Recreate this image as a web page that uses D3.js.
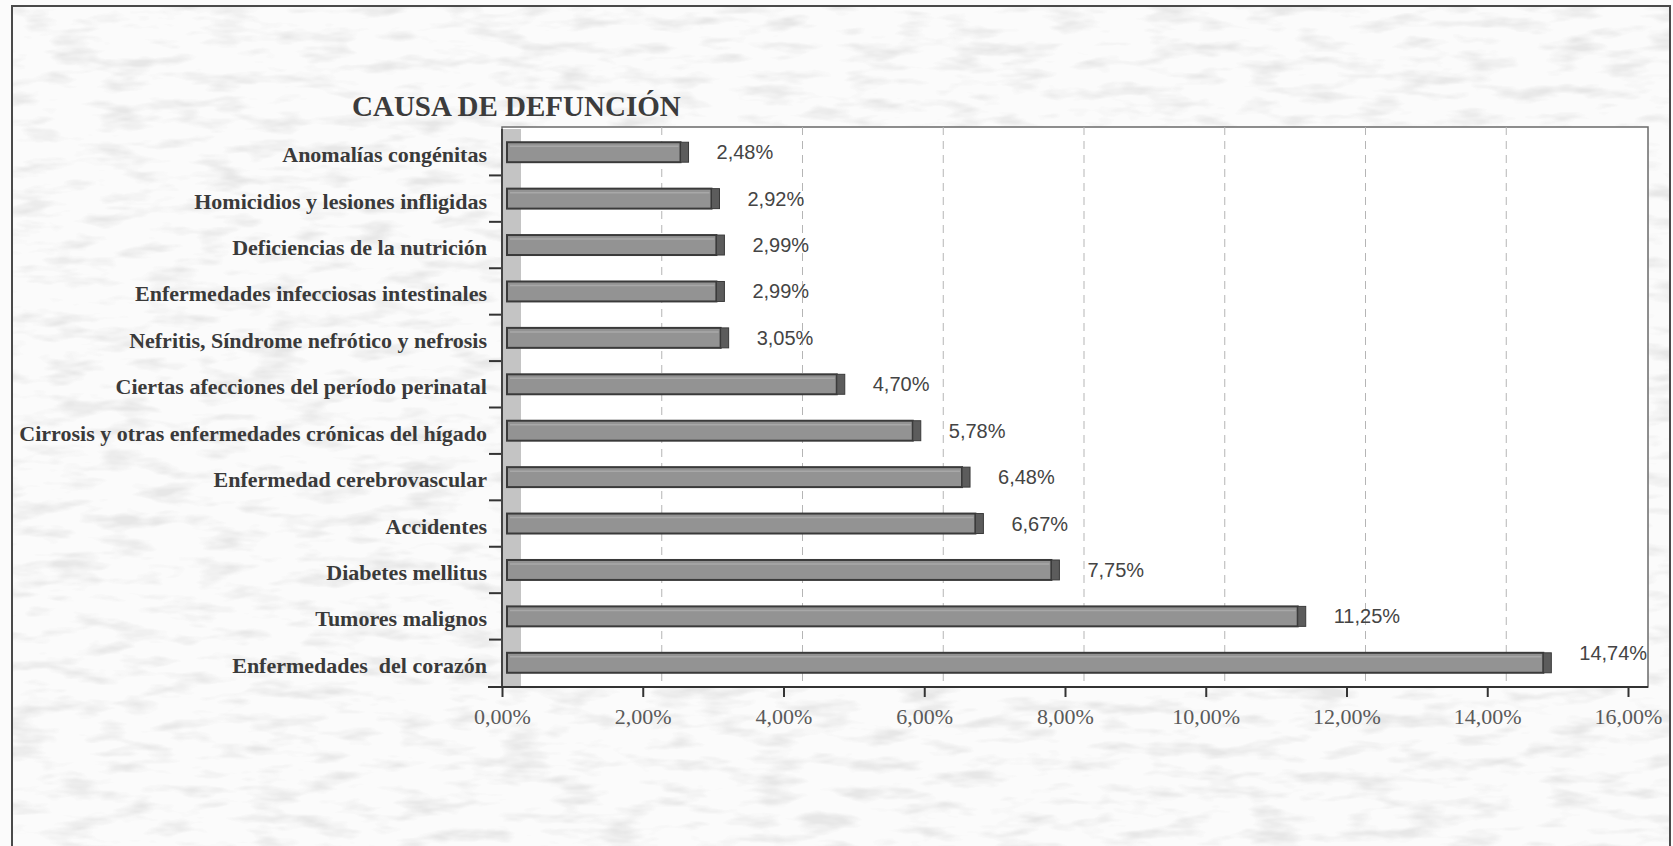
<!DOCTYPE html>
<html>
<head>
<meta charset="utf-8">
<title>Causa de defunción</title>
<script src="https://cdn.jsdelivr.net/npm/d3@7"></script>
<style>
body { margin:0; background:#fff; }
svg { display:block; }
</style>
</head>
<body>
<script>
// datos del grafico (de arriba hacia abajo)
var causas = ["Anomalías congénitas", "Homicidios y lesiones infligidas", "Deficiencias de la nutrición",
  "Enfermedades infecciosas intestinales", "Nefritis, Síndrome nefrótico y nefrosis",
  "Ciertas afecciones del período perinatal", "Cirrosis y otras enfermedades crónicas del hígado",
  "Enfermedad cerebrovascular", "Accidentes", "Diabetes mellitus", "Tumores malignos",
  "Enfermedades  del corazón"];
var porcentajes = [2.48, 2.92, 2.99, 2.99, 3.05, 4.70, 5.78, 6.48, 6.67, 7.75, 11.25, 14.74];
var xTicks = [0, 2, 4, 6, 8, 10, 12, 14, 16];
var titulo = "CAUSA DE DEFUNCIÓN";

var width = 1673, height = 846;
var pLeft = 502, pRight = 1628, pTop = 129, pBottom = 686;
var boxRight = 1648, boxTop = 127, axisY = 687;
var depth = 19;

var es = d3.formatLocale({decimal: ",", thousands: ".", grouping: [3], currency: ["", "€"]});
var fmt = es.format(".2f");

var svg = d3.select('body').append('svg').attr('width', width).attr('height', height);

// textura de papel escaneado
var defs = svg.append('defs');
var f = defs.append('filter').attr('id', 'scan').attr('x', 0).attr('y', 0).attr('width', 1).attr('height', 1);
f.append('feTurbulence').attr('type', 'fractalNoise').attr('baseFrequency', '0.02 0.07').attr('numOctaves', 3).attr('seed', 7);
f.append('feColorMatrix').attr('type', 'matrix')
  .attr('values', '0 0 0 0 0.55  0 0 0 0 0.55  0 0 0 0 0.55  0 0 0 -3 1.55');

svg.append('rect').attr('x', 0).attr('y', 0).attr('width', width).attr('height', height).attr('fill', '#fbfbfb');
svg.append('rect').attr('x', 12).attr('y', 6).attr('width', width - 14).attr('height', height)
  .attr('fill', '#fff').attr('filter', 'url(#scan)').attr('opacity', 0.35);
svg.append('rect').attr('x', 12).attr('y', 6).attr('width', width - 15).attr('height', height + 10)
  .attr('fill', 'none').attr('stroke', '#4a4a4a').attr('stroke-width', 2);

var x = d3.scaleLinear().domain([0, 16]).range([pLeft, pRight]);
var y = d3.scaleBand().domain(causas).range([pTop, pBottom]).paddingInner(0.57).paddingOuter(0.285);
var yb = d3.scaleBand().domain(causas).range([pTop, pBottom]);

// area de trazado
svg.append('rect').attr('x', pLeft).attr('y', boxTop).attr('width', boxRight - pLeft).attr('height', axisY - boxTop)
  .attr('fill', '#fff').attr('stroke', '#6a6a6a').attr('stroke-width', 1.5);

// pared lateral
svg.append('rect').attr('x', pLeft).attr('y', pTop).attr('width', depth).attr('height', axisY - pTop)
  .attr('fill', '#c4c4c4');

// lineas de division
svg.selectAll('line.grid').data(xTicks.slice(1, -1)).enter().append('line').attr('class', 'grid')
  .attr('x1', function(d){ return x(d) + depth; }).attr('x2', function(d){ return x(d) + depth; })
  .attr('y1', boxTop).attr('y2', axisY - 4)
  .attr('stroke', '#b5b5b5').attr('stroke-width', 1).attr('stroke-dasharray', '8,6');

// barras
var bars = svg.selectAll('g.bar').data(porcentajes).enter().append('g').attr('class', 'bar');
bars.append('rect')
  .attr('x', pLeft + 5)
  .attr('y', function(d, i){ return y(causas[i]); })
  .attr('width', function(d){ return x(d) + 4 - pLeft - 5; })
  .attr('height', y.bandwidth())
  .attr('fill', '#939393').attr('stroke', '#3a3a3a').attr('stroke-width', 2);
bars.append('rect')
  .attr('x', function(d){ return x(d) + 4; })
  .attr('y', function(d, i){ return y(causas[i]); })
  .attr('width', 8)
  .attr('height', y.bandwidth())
  .attr('fill', '#5c5c5c').attr('stroke', '#3a3a3a').attr('stroke-width', 1);
bars.append('line')
  .attr('x1', pLeft + 8).attr('x2', function(d){ return x(d) + 2; })
  .attr('y1', function(d, i){ return y(causas[i]) + 4; })
  .attr('y2', function(d, i){ return y(causas[i]) + 4; })
  .attr('stroke', '#a8a8a8').attr('stroke-width', 1.5);

// etiquetas de valor
svg.selectAll('text.val').data(porcentajes).enter().append('text').attr('class', 'val')
  .attr('x', function(d){ return x(d) + 40; })
  .attr('y', function(d, i){
    var c = y(causas[i]) + y.bandwidth() / 2 + 7;
    return (x(d) + 110 > boxRight) ? c - 10 : c;
  })
  .text(function(d){ return fmt(d) + '%'; })
  .attr('font-family', 'Liberation Sans, Arial, sans-serif').attr('font-size', 20)
  .attr('fill', '#444');

// eje de categorias
svg.selectAll('text.cat').data(causas).enter().append('text').attr('class', 'cat')
  .attr('x', 487)
  .attr('y', function(d){ return y(d) + y.bandwidth() / 2 + 10; })
  .attr('text-anchor', 'end')
  .attr('font-family', 'Liberation Serif, Times New Roman, serif').attr('font-weight', 'bold').attr('font-size', 22)
  .attr('fill', '#3a3a3a')
  .style('white-space', 'pre')
  .text(function(d){ return d; });

svg.selectAll('line.ctick').data(causas.slice(1)).enter().append('line').attr('class', 'ctick')
  .attr('x1', 489).attr('x2', pLeft)
  .attr('y1', function(d){ return yb(d); }).attr('y2', function(d){ return yb(d); })
  .attr('stroke', '#333').attr('stroke-width', 2);

svg.append('line').attr('x1', pLeft).attr('x2', pLeft).attr('y1', pTop).attr('y2', axisY)
  .attr('stroke', '#444').attr('stroke-width', 2);

// eje de valores
var xAxis = d3.axisBottom(x).tickValues(xTicks).tickSize(10).tickSizeOuter(0)
  .tickFormat(function(d){ return fmt(d) + '%'; });
var gx = svg.append('g').attr('transform', 'translate(0,' + axisY + ')').call(xAxis);
gx.select('.domain').remove();
gx.selectAll('.tick line').attr('stroke', '#333').attr('stroke-width', 2);
gx.selectAll('.tick text').attr('y', 37).attr('dy', 0)
  .attr('font-family', 'Liberation Serif, Times New Roman, serif').attr('font-size', 22)
  .attr('fill', '#5a5a5a');
svg.append('line').attr('x1', 488).attr('x2', boxRight).attr('y1', axisY).attr('y2', axisY)
  .attr('stroke', '#333').attr('stroke-width', 2);

// titulo
svg.append('text').attr('x', 352).attr('y', 116)
  .attr('font-family', 'Liberation Serif, Times New Roman, serif').attr('font-weight', 'bold').attr('font-size', 29)
  .attr('fill', '#3c3c3c')
  .text(titulo);
</script>
</body>
</html>
